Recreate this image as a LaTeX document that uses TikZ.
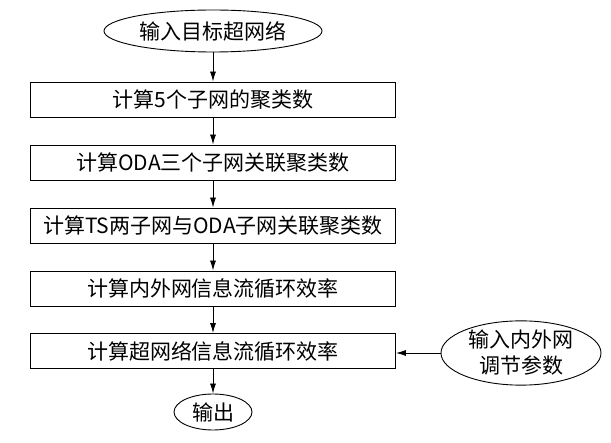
\documentclass[tikz,border=0pt]{standalone}
\usepackage{fontspec}
\setmainfont{Noto Sans CJK SC}
\usetikzlibrary{shapes.geometric,arrows.meta}
\tikzset{
  stepbox/.style={draw,line width=0.9pt,minimum width=365pt,minimum height=35pt,inner sep=0pt},
  oval/.style={draw,ellipse,line width=0.9pt,inner sep=0pt},
  flow/.style={line width=0.9pt,-{Latex[length=10pt,width=6pt]}}
}
\begin{document}
\begin{tikzpicture}[x=1pt,y=-1pt,font=\fontsize{21}{25}\selectfont]
    \useasboundingbox (0,0) rectangle (611,443);

    \node[oval,minimum width=218pt,minimum height=42pt] (in) at (213,31) {输入目标超网络};
    \node[stepbox] (b1) at (213,99.5) {计算5个子网的聚类数};
    \node[stepbox] (b2) at (213,162.5) {计算ODA三个子网关联聚类数};
    \node[stepbox] (b3) at (213,225.5) {计算TS两子网与ODA子网关联聚类数};
    \node[stepbox] (b4) at (213,288.5) {计算内外网信息流循环效率};
    \node[stepbox] (b5) at (213,351) {计算超网络信息流循环效率};
    \node[oval,minimum width=78pt,minimum height=36pt] (out) at (213,412) {输出};
    \node[oval,minimum width=160pt,minimum height=64pt,align=center,
          font=\fontsize{21}{26}\selectfont] (par) at (521,353) {输入内外网\\调节参数};

    \draw[flow] (in) -- (b1);
    \draw[flow] (b1) -- (b2);
    \draw[flow] (b2) -- (b3);
    \draw[flow] (b3) -- (b4);
    \draw[flow] (b4) -- (b5);
    \draw[flow] (b5) -- (out);
    \draw[flow] (par) -- (b5.east |- par);

\end{tikzpicture}
\end{document}
